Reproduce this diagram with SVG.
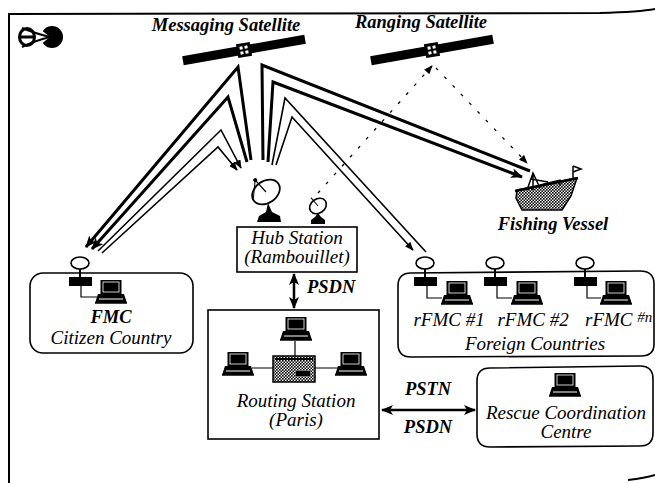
<svg xmlns="http://www.w3.org/2000/svg" xmlns:xlink="http://www.w3.org/1999/xlink" width="655" height="483" viewBox="0 0 655 483">
  <style>
    text { font-family: "Liberation Serif", "Times New Roman", serif; font-style: italic; fill: #000; }
    .lbl { font-size: 18.5px; font-weight: bold; }
    .lbl2 { font-size: 19px; }
    .box { fill: none; stroke: #000; stroke-width: 1.6; }
    .beam { fill: none; stroke: #000; stroke-width: 3; stroke-linejoin: miter; }
    .beam-thin { fill: none; stroke: #000; stroke-width: 1.6; stroke-linejoin: miter; }
    .dash { fill: none; stroke: #000; stroke-width: 1.3; stroke-dasharray: 3 9; }
    .wire { fill: none; stroke: #000; stroke-width: 1.2; }
    .link { fill: none; stroke: #000; stroke-width: 2.5; }
  </style>
  <defs>
    <marker id="ah" viewBox="0 0 12 10" refX="11" refY="5" markerWidth="12" markerHeight="10" markerUnits="userSpaceOnUse" orient="auto-start-reverse">
      <path d="M0,0 L12,5 L0,10 L3,5 z" fill="#000"/>
    </marker>
    <marker id="ahs" viewBox="0 0 10 8" refX="9" refY="4" markerWidth="9" markerHeight="7" markerUnits="userSpaceOnUse" orient="auto-start-reverse">
      <path d="M0,0 L10,4 L0,8 z" fill="#000"/>
    </marker>
    <pattern id="dots" width="3" height="3" patternUnits="userSpaceOnUse">
      <rect width="3" height="3" fill="#fff"/>
      <rect width="1.6" height="1.6" fill="#000"/>
      <rect x="1.5" y="1.5" width="1.5" height="1.5" fill="#000"/>
    </pattern>
    <!-- workstation icon, origin at top centre of the monitor -->
    <g id="pc">
      <rect x="-10.5" y="0" width="21" height="14" fill="#000"/>
      <rect x="-8" y="2" width="16" height="10" fill="none" stroke="#fff" stroke-width="0.8"/>
      <path d="M-13,14 L13,14 L16,23 L-16,23 z" fill="#000"/>
      <line x1="-12" y1="19" x2="12" y2="19" stroke="#fff" stroke-width="1"/>
      <line x1="-16" y1="23" x2="16" y2="23" stroke="#000" stroke-width="1.5"/>
    </g>
    <!-- satellite: panel bar with body -->
    <g id="sat">
      <rect x="-62" y="-4.5" width="124" height="9" fill="#000"/>
      <rect x="-7" y="-7" width="14" height="14" fill="#000"/>
      <rect x="-4" y="-4" width="3" height="3" fill="#fff"/>
      <rect x="1" y="-4" width="3" height="3" fill="#fff"/>
      <rect x="-4" y="1" width="3" height="3" fill="#fff"/>
      <rect x="1" y="1" width="3" height="3" fill="#fff"/>
    </g>
    <!-- ground terminal antenna with modem -->
    <g id="ant">
      <ellipse cx="0" cy="0" rx="9" ry="6" fill="#fff" stroke="#000" stroke-width="1.6"/>
      <line x1="0" y1="6" x2="0" y2="15" stroke="#000" stroke-width="2"/>
      <rect x="-11" y="14" width="23" height="9" fill="#000"/>
    </g>
  </defs>

  <!-- page frame -->
  <g id="frame" fill="none" stroke="#000" stroke-width="2">
    <path d="M8,14 L600,13 Q640,12 655,9"/>
    <line x1="9" y1="14" x2="9" y2="483"/>
    <path d="M628,480 Q645,478 655,475"/>
  </g>

  <!-- logo -->
  <g id="logo">
    <ellipse cx="27" cy="37" rx="7.5" ry="8.5" fill="none" stroke="#000" stroke-width="3"/>
    <line x1="19" y1="37" x2="35" y2="37" stroke="#000" stroke-width="3"/>
    <circle cx="52" cy="37" r="11" fill="#000"/>
    <path d="M40,29 L50,37 L40,45 z" fill="#fff"/>
    <path d="M22,28 Q34,33 50,37 Q34,41 22,47" fill="none" stroke="#000" stroke-width="2.2"/>
  </g>

  <!-- satellites -->
  <g id="messaging-satellite">
    <use xlink:href="#sat" transform="translate(244,50) rotate(-10)"/>
    <text class="lbl" x="226" y="31" text-anchor="middle">Messaging Satellite</text>
  </g>
  <g id="ranging-satellite">
    <use xlink:href="#sat" transform="translate(432,50) rotate(-10)"/>
    <text class="lbl" x="421" y="28" text-anchor="middle">Ranging Satellite</text>
  </g>

  <!-- connectors -->
  <g id="connectors">
    <!-- satellite beams, hub to FMC -->
    <polyline class="beam" points="251,160 238,67 86,247" marker-end="url(#ah)"/>
    <polyline class="beam" points="247,162 228,97 92,249" marker-end="url(#ah)"/>
    <polyline class="beam-thin" points="98,251 221,130 241,168" marker-end="url(#ahs)"/>
    <polyline class="beam-thin" points="102,253 218,147 237,170" marker-end="url(#ahs)"/>
    <!-- satellite beams, hub to vessel and to rFMC -->
    <polyline class="beam" points="263,160 262,65 530,171"/>
    <polyline class="beam" points="268,162 273,82 522,177" marker-end="url(#ah)"/>
    <polyline class="beam-thin" points="272,165 285,98 426,252"/>
    <polyline class="beam-thin" points="276,165 292,117 413,250" marker-end="url(#ahs)"/>
    <!-- ranging links -->
    <line class="dash" x1="318" y1="193" x2="432" y2="66" marker-end="url(#ahs)"/>
    <line class="dash" x1="436" y1="68" x2="527" y2="163" marker-end="url(#ahs)"/>
    <!-- terrestrial links -->
    <line class="link" x1="294" y1="274" x2="294" y2="308" marker-start="url(#ah)" marker-end="url(#ah)"/>
    <text class="lbl" x="307" y="293">PSDN</text>
    <line class="link" x1="382" y1="410" x2="475" y2="410" marker-start="url(#ah)" marker-end="url(#ah)"/>
    <text class="lbl" x="428" y="395" text-anchor="middle">PSTN</text>
    <text class="lbl" x="428" y="433" text-anchor="middle">PSDN</text>
  </g>

  <!-- hub station -->
  <g id="hub-station">
    <!-- large dish -->
    <g transform="translate(266,192) rotate(-35)">
      <ellipse cx="0" cy="0" rx="15" ry="11" fill="#fff" stroke="#000" stroke-width="1.8"/>
      <line x1="0" y1="0" x2="-2" y2="-16" stroke="#000" stroke-width="1.2"/>
      <line x1="-14" y1="-2" x2="-2" y2="-16" stroke="#000" stroke-width="1"/>
      <circle cx="-2" cy="-16" r="2" fill="#000"/>
    </g>
    <path d="M268,203 L272,212 L280,216 L281,222 L257,222 L259,216 L266,212 z" fill="#000"/>
    <!-- small dish -->
    <g transform="translate(318,206) rotate(-35)">
      <ellipse cx="0" cy="0" rx="9" ry="7" fill="#fff" stroke="#000" stroke-width="1.6"/>
      <line x1="0" y1="0" x2="-1" y2="-11" stroke="#000" stroke-width="1"/>
    </g>
    <path d="M318,213 L321,217 L325,220 L325,224 L311,224 L311,220 L315,217 z" fill="#000"/>
    <rect class="box" x="237" y="227" width="120" height="45" fill="#fff"/>
    <text class="lbl2" x="297" y="244" text-anchor="middle">Hub Station</text>
    <text class="lbl2" x="297" y="263" text-anchor="middle">(Rambouillet)</text>
  </g>

  <!-- fishing vessel -->
  <g id="fishing-vessel">
    <path d="M517,190 L577,178 L571,196 L562,210 L522,210 L516,198 z" fill="url(#dots)" stroke="#000" stroke-width="1.5"/>
    <path d="M515,191 L578,178" stroke="#000" stroke-width="2.5"/>
    <path d="M527,190 L533,173 L540,188 M533,173 L533,190 M531,179 L548,182" fill="none" stroke="#000" stroke-width="1.5"/>
    <path d="M540,185 L560,180 L560,186" fill="none" stroke="#000" stroke-width="1.3"/>
    <path d="M573,180 L573,166 M573,166 L581,169 L573,172" fill="none" stroke="#000" stroke-width="1.5"/>
    <text class="lbl" x="553" y="230" text-anchor="middle">Fishing Vessel</text>
  </g>

  <!-- FMC citizen country -->
  <g id="fmc-citizen">
    <rect class="box" x="30" y="273" width="163" height="80" rx="13"/>
    <use xlink:href="#ant" x="80" y="263"/>
    <path class="wire" d="M81,286 L81,297 L97,297"/>
    <use xlink:href="#pc" x="111" y="280"/>
    <text class="lbl" x="111" y="323" text-anchor="middle" font-size="17">FMC</text>
    <text class="lbl2" x="111" y="344" text-anchor="middle" font-size="18.5">Citizen Country</text>
  </g>

  <!-- foreign countries -->
  <g id="foreign-countries">
    <path class="box" d="M411,273 L640,271 Q654,271 654,284 L654,344 Q654,356 641,356 L411,357 Q398,357 398,344 L398,286 Q398,273 411,273 z"/>
    <use xlink:href="#ant" x="425" y="263"/>
    <path class="wire" d="M427,286 L427,298 L442,298"/>
    <use xlink:href="#pc" x="457" y="281"/>
    <use xlink:href="#ant" x="495" y="263"/>
    <path class="wire" d="M497,286 L497,298 L512,298"/>
    <use xlink:href="#pc" x="527" y="281"/>
    <use xlink:href="#ant" x="585" y="263"/>
    <path class="wire" d="M587,286 L587,298 L601,298"/>
    <use xlink:href="#pc" x="616" y="281"/>
    <text class="lbl2" x="449" y="326" text-anchor="middle">rFMC #1</text>
    <text class="lbl2" x="533" y="326" text-anchor="middle">rFMC #2</text>
    <text class="lbl2" x="585" y="326">rFMC <tspan font-size="15" dy="-4">#n</tspan></text>
    <text class="lbl2" x="535" y="350" text-anchor="middle">Foreign Countries</text>
  </g>

  <!-- routing station -->
  <g id="routing-station">
    <rect class="box" x="208" y="310" width="171" height="129"/>
    <line class="wire" x1="295" y1="341" x2="295" y2="356"/>
    <line class="wire" x1="252" y1="368" x2="340" y2="368"/>
    <use xlink:href="#pc" x="296" y="317"/>
    <use xlink:href="#pc" x="238" y="352"/>
    <use xlink:href="#pc" x="351" y="352"/>
    <rect x="273" y="356" width="42" height="26" fill="url(#dots)" stroke="#000" stroke-width="1.5"/>
    <path d="M275,359 L313,359" stroke="#000" stroke-width="2"/>
    <rect x="296" y="371" width="14" height="5" fill="#000"/>
    <text class="lbl2" x="296" y="407" text-anchor="middle">Routing Station</text>
    <text class="lbl2" x="296" y="426" text-anchor="middle">(Paris)</text>
  </g>

  <!-- rescue coordination centre -->
  <g id="rescue-centre">
    <path class="box" d="M490,368 L640,366 Q653,366 653,379 L653,433 Q653,446 640,446 L490,447 Q477,447 477,434 L477,381 Q477,368 490,368 z"/>
    <use xlink:href="#pc" x="565" y="373"/>
    <text class="lbl2" x="566" y="419" text-anchor="middle">Rescue Coordination</text>
    <text class="lbl2" x="566" y="438" text-anchor="middle">Centre</text>
  </g>
</svg>
